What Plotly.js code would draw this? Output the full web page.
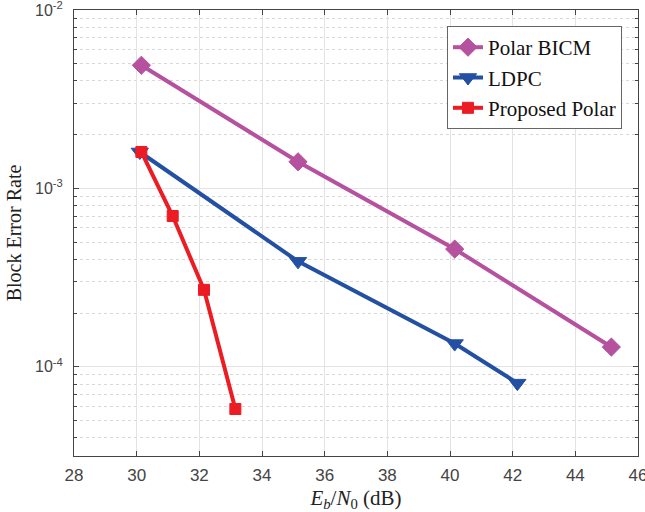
<!DOCTYPE html>
<html><head><meta charset="utf-8">
<script src="https://cdn.plot.ly/plotly-3.0.1.min.js"></script>
<style>body{margin:0;background:#fff}#c{width:645px;height:512px}</style>
</head><body><div id="c"></div>
<script>
const bicmX = [30.15, 35.15, 40.15, 45.15];
const bicmY = [4.9e-3, 1.41e-3, 4.57e-4, 1.29e-4];
const ldpcX = [30.1, 35.15, 40.15, 42.15];
const ldpcY = [1.6e-3, 3.9e-4, 1.35e-4, 8.1e-5];
const propX = [30.15, 31.15, 32.15, 33.15];
const propY = [1.6e-3, 7.0e-4, 2.7e-4, 5.8e-5];
const xTicks = [28, 30, 32, 34, 36, 38, 40, 42, 44, 46];
const yTicks = [1e-4, 1e-3, 1e-2];
const yTickText = ['10<sup>-4</sup>', '10<sup>-3</sup>', '10<sup>-2</sup>'];

const minorY = [];
[1e-5, 1e-4, 1e-3].forEach(d => { for (let k = 2; k <= 9; k++) minorY.push(k * d); });

const traces = [
  {x: bicmX, y: bicmY, name: 'Polar BICM', mode: 'lines+markers',
   line: {color: '#B5519F', width: 4},
   marker: {symbol: 'diamond', size: 14, color: '#B5519F', line: {width: 1, color: '#B5519F'}}},
  {x: ldpcX, y: ldpcY, name: 'LDPC', mode: 'lines+markers',
   line: {color: '#2350A3', width: 4},
   marker: {symbol: 'triangle-down', size: 15, color: '#2350A3', line: {width: 1, color: '#2350A3'}}},
  {x: propX, y: propY, name: 'Proposed Polar', mode: 'lines+markers',
   line: {color: '#EC1C24', width: 4},
   marker: {symbol: 'square', size: 11, color: '#EC1C24', line: {width: 1, color: '#EC1C24'}}}
];

const layout = {
  width: 645, height: 512,
  margin: {l: 74, r: 7, t: 10, b: 56},
  paper_bgcolor: '#fff', plot_bgcolor: '#fff',
  showlegend: true,
  legend: {x: 0.9716, y: 0.964, xanchor: 'right', yanchor: 'top',
    bordercolor: '#666', borderwidth: 1, bgcolor: '#fff',
    font: {family: 'Liberation Serif, DejaVu Serif, serif', size: 21, color: '#111'},
    tracegroupgap: 0},
  xaxis: {range: [28, 46], tickvals: xTicks, ticks: 'inside', ticklen: 5,
    tickcolor: '#444', showline: true, linecolor: '#444', linewidth: 1, mirror: 'ticks',
    showgrid: true, gridcolor: '#e3e3e3', gridwidth: 1, zeroline: false,
    ticklabelstandoff: 4, ticklabeloverflow: 'allow',
    tickfont: {family: 'Liberation Sans, Arial, sans-serif', size: 17, color: '#444'},
    title: {text: '<i>E<sub>b</sub></i>/<i>N</i><sub>0</sub> (dB)', standoff: 6,
      font: {family: 'Liberation Serif, DejaVu Serif, serif', size: 21, color: '#222'}}},
  yaxis: {type: 'log', range: [-4.5, -2], tickvals: yTicks, ticktext: yTickText,
    ticks: 'inside', ticklen: 5, tickcolor: '#444',
    showline: true, linecolor: '#444', linewidth: 1, mirror: 'ticks',
    showgrid: true, gridcolor: '#e3e3e3', gridwidth: 1, zeroline: false,
    ticklabelstandoff: 7, ticklabeloverflow: 'allow',
    tickfont: {family: 'Liberation Sans, Arial, sans-serif', size: 16, color: '#444'},
    minor: {tickmode: 'array', tickvals: minorY, ticks: 'inside', ticklen: 3, tickcolor: '#444',
      showgrid: true, gridcolor: '#d8d8d8', gridwidth: 1, griddash: 'dot'},
    title: {text: 'Block Error Rate', standoff: 8,
      font: {family: 'Liberation Serif, DejaVu Serif, serif', size: 20, color: '#222'}}}
};

Plotly.newPlot('c', traces, layout, {displayModeBar: false, staticPlot: true});
</script></body></html>
